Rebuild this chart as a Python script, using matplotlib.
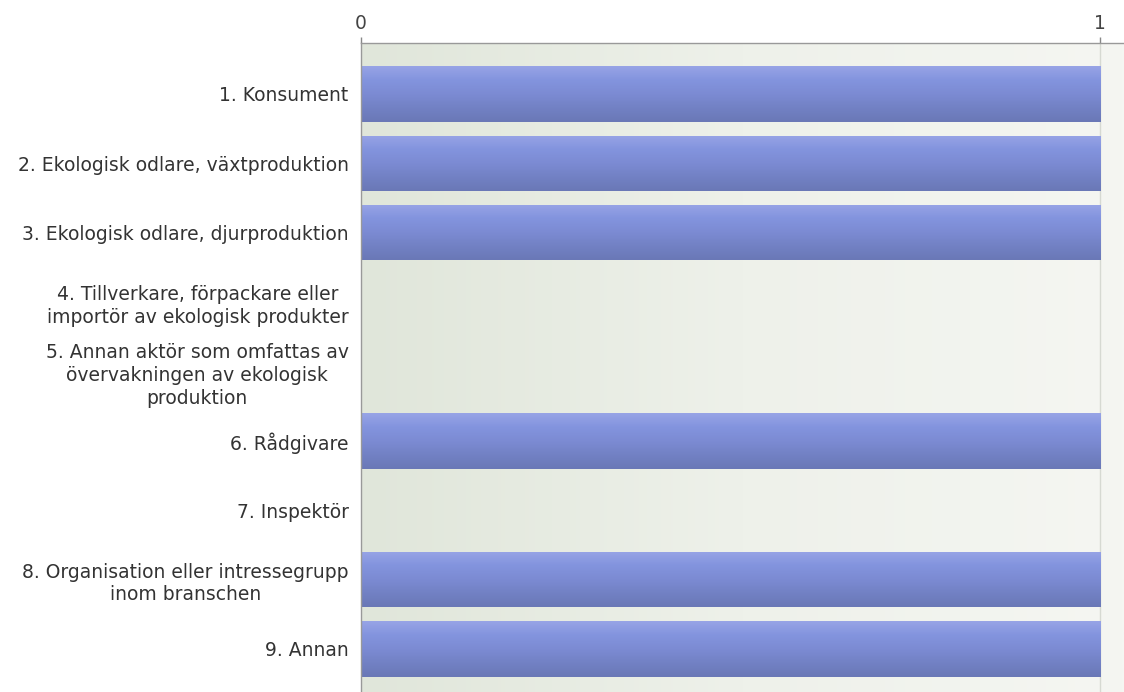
import numpy as np
import matplotlib
matplotlib.use("Agg")
import matplotlib.pyplot as plt
from matplotlib.colors import LinearSegmentedColormap

plt.rcParams['font.family'] = ['DejaVu Sans']

categories = [
    "1. Konsument",
    "2. Ekologisk odlare, växtproduktion",
    "3. Ekologisk odlare, djurproduktion",
    "4. Tillverkare, förpackare eller\nimportör av ekologisk produkter",
    "5. Annan aktör som omfattas av\növervakningen av ekologisk\nproduktion",
    "6. Rådgivare",
    "7. Inspektör",
    "8. Organisation eller intressegrupp\ninom branschen",
    "9. Annan",
]
values = [1, 1, 1, 0, 0, 1, 0, 1, 1]
xticks = [0, 1]

fig = plt.figure(figsize=(11.24, 6.92), dpi=100)
ax = fig.add_axes([0.3212, 0.0, 0.6788, 0.9379])

xmax = 1.032
ymin, ymax = -0.735, 8.62

# background gradient (left greenish grey -> right near white)
bg_cmap = LinearSegmentedColormap.from_list("bg", ["#e0e6da", "#eef1ea", "#f5f6f2"])
bg = np.linspace(0, 1, 256).reshape(1, -1)
ax.imshow(bg, cmap=bg_cmap, extent=[0, xmax, ymax, ymin], aspect="auto",
          zorder=0, interpolation="bilinear")

ax.axvline(1, color="#d6d9d2", lw=1, zorder=1)

y = np.arange(len(categories))
bars = ax.barh(y, values, height=0.8, color="#7685cc", edgecolor="none", zorder=2)

# vertical gradient inside each bar
bar_cmap = LinearSegmentedColormap.from_list(
    "bar", ["#98a4e6", "#8394de", "#7c8bd3", "#7281c4", "#6a78b6"])
grad = np.linspace(0, 1, 256).reshape(-1, 1)
for b in bars:
    if b.get_width() <= 0:
        continue
    x0, y0 = b.get_x(), b.get_y()
    w, h = b.get_width(), b.get_height()
    im = ax.imshow(grad, cmap=bar_cmap, extent=[x0, x0 + w, y0 + h, y0],
                   aspect="auto", zorder=3, interpolation="bilinear")
    im.set_clip_path(b)

ax.set_xlim(0, xmax)
ax.set_ylim(ymax, ymin)

ax.xaxis.tick_top()
ax.set_xticks(xticks)
ax.set_xticklabels([str(t) for t in xticks])
ax.tick_params(axis="x", colors="#888888", labelcolor="#444444", length=4,
               width=1, labelsize=13.5, pad=3)

ax.set_yticks(y)
ax.set_yticklabels(categories)
ax.tick_params(axis="y", length=0, labelsize=13.5, labelcolor="#333333", pad=9)
for lbl in ax.get_yticklabels():
    lbl.set_multialignment("center")
    lbl.set_linespacing(1.25)

for side in ["right", "bottom"]:
    ax.spines[side].set_visible(False)
for side in ["top", "left"]:
    ax.spines[side].set_color("#999999")
    ax.spines[side].set_linewidth(1)
    ax.spines[side].set_zorder(5)

fig.savefig("out.png", dpi=100)
plt.close(fig)
